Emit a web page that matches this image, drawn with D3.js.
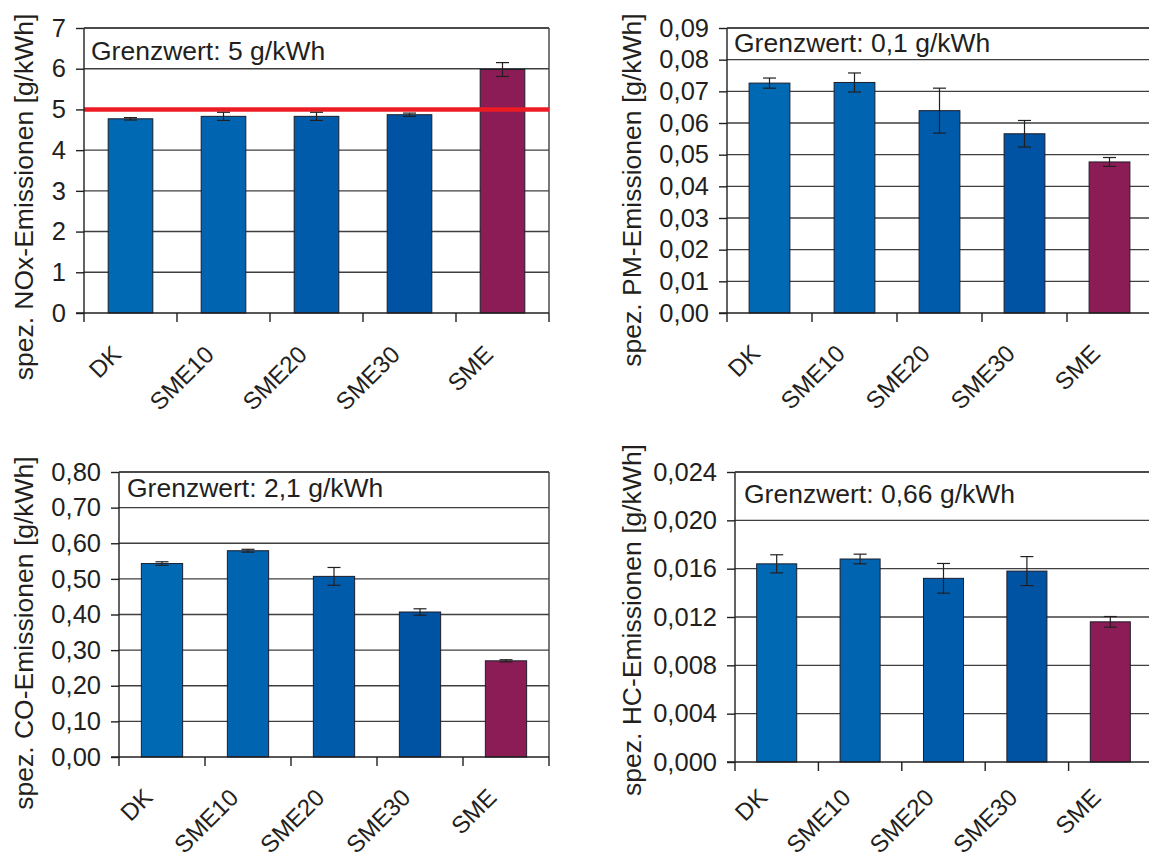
<!DOCTYPE html>
<html>
<head>
<meta charset="utf-8">
<script src="https://cdn.jsdelivr.net/npm/d3@7"></script>
<style>
  html, body { margin: 0; padding: 0; background: #fff; }
  svg { display: block; }
  text { font-family: "Liberation Sans", Arial, Helvetica, sans-serif; fill: #231f20; }
</style>
</head>
<body>
<svg id="chart" width="1149" height="861"></svg>
<script>
// ---------- data ----------
const categories = ["DK", "SME10", "SME20", "SME30", "SME"];

const noxValues = [4.77, 4.83, 4.83, 4.87, 5.98];
const noxErrors = [0.03, 0.10, 0.10, 0.04, 0.17];
const noxLimit = 5;

const pmValues = [0.0726, 0.0728, 0.0639, 0.0566, 0.0477];
const pmErrors = [0.0016, 0.0030, 0.0071, 0.0042, 0.0014];

const coValues = [0.543, 0.579, 0.507, 0.407, 0.270];
const coErrors = [0.005, 0.004, 0.025, 0.009, 0.003];

const hcValues = [0.0164, 0.0168, 0.0152, 0.0158, 0.0116];
const hcErrors = [0.00075, 0.0004, 0.00123, 0.0012, 0.00044];

const noxTicks = [0, 1, 2, 3, 4, 5, 6, 7];
const pmTicks = [0, 0.01, 0.02, 0.03, 0.04, 0.05, 0.06, 0.07, 0.08, 0.09];
const coTicks = [0, 0.1, 0.2, 0.3, 0.4, 0.5, 0.6, 0.7, 0.8];
const hcTicks = [0, 0.004, 0.008, 0.012, 0.016, 0.020, 0.024];

const yTitles = ["spez. NOx-Emissionen [g/kWh]", "spez. PM-Emissionen [g/kWh]",
                 "spez. CO-Emissionen [g/kWh]", "spez. HC-Emissionen [g/kWh]"];
const limitTexts = ["Grenzwert: 5 g/kWh", "Grenzwert: 0,1 g/kWh",
                    "Grenzwert: 2,1 g/kWh", "Grenzwert: 0,66 g/kWh"];

const barColors = ["#0069b4", "#0064b0", "#005bab", "#0052a2", "#8c1c55"];

// ---------- layout ----------
const deFormat = (digits) => (v) => d3.format("." + digits + "f")(v).replace(".", ",");

const panels = [
  { values: noxValues, errors: noxErrors, ticks: noxTicks, fmt: deFormat(0), title: yTitles[0], limitText: limitTexts[0],
    left: 84, right: 549, top: 28, bottom: 313, labelY: 356, titleX: 33, titleY: 197, limitX: 91, limitY: 60, limitLine: noxLimit, frameRight: true },
  { values: pmValues, errors: pmErrors, ticks: pmTicks, fmt: deFormat(2), title: yTitles[1], limitText: limitTexts[1],
    left: 727, right: 1152, top: 28, bottom: 313, labelY: 355, titleX: 641, titleY: 190, limitX: 734, limitY: 52, frameRight: false },
  { values: coValues, errors: coErrors, ticks: coTicks, fmt: deFormat(2), title: yTitles[2], limitText: limitTexts[2],
    left: 119, right: 549, top: 472, bottom: 757, labelY: 799, titleX: 33, titleY: 633, limitX: 127, limitY: 497, frameRight: true },
  { values: hcValues, errors: hcErrors, ticks: hcTicks, fmt: deFormat(3), title: yTitles[3], limitText: limitTexts[3],
    left: 735, right: 1152, top: 472, bottom: 762, labelY: 799, titleX: 641, titleY: 620, limitX: 744, limitY: 503, frameRight: false }
];

const svg = d3.select("#chart");
const gridColor = "#3f3f3f";
const axisColor = "#231f20";

panels.forEach((p) => {
  const g = svg.append("g");
  const ticks = p.ticks;
  const y = d3.scaleLinear().domain([ticks[0], ticks[ticks.length - 1]]).range([p.bottom, p.top]);
  const x = d3.scaleBand().domain(categories).range([p.left, p.right]).paddingInner(0.52).paddingOuter(0.26);

  // gridlines
  g.append("g").selectAll("line").data(ticks.slice(1)).join("line")
    .attr("x1", p.left).attr("x2", Math.min(p.right, 1149))
    .attr("y1", (d) => y(d)).attr("y2", (d) => y(d))
    .attr("stroke", gridColor).attr("stroke-width", 1.4);

  if (p.frameRight) {
    g.append("line").attr("x1", p.right).attr("x2", p.right)
      .attr("y1", p.top).attr("y2", p.bottom)
      .attr("stroke", gridColor).attr("stroke-width", 1.4);
  }

  // bars
  g.append("g").selectAll("rect").data(p.values).join("rect")
    .attr("x", (d, i) => x(categories[i]))
    .attr("width", x.bandwidth())
    .attr("y", (d) => y(d))
    .attr("height", (d) => y(0) - y(d))
    .attr("fill", (d, i) => barColors[i])
    .attr("stroke", "#1d1d2a").attr("stroke-width", 1);

  // limit line
  if (p.limitLine !== undefined) {
    g.append("line").attr("x1", p.left).attr("x2", p.right)
      .attr("y1", y(p.limitLine)).attr("y2", y(p.limitLine))
      .attr("stroke", "#ed1c24").attr("stroke-width", 4.5);
  }

  // error bars
  const eb = g.append("g").attr("stroke", "#231f20").attr("stroke-width", 1.2);
  p.values.forEach((v, i) => {
    const cx = x(categories[i]) + x.bandwidth() / 2;
    const e = p.errors[i];
    eb.append("line").attr("x1", cx).attr("x2", cx).attr("y1", y(v + e)).attr("y2", y(v - e));
    eb.append("line").attr("x1", cx - 6.5).attr("x2", cx + 6.5).attr("y1", y(v + e)).attr("y2", y(v + e));
    eb.append("line").attr("x1", cx - 6.5).attr("x2", cx + 6.5).attr("y1", y(v - e)).attr("y2", y(v - e));
  });

  // y axis
  const yAxis = d3.axisLeft(y).tickValues(ticks).tickFormat(p.fmt).tickSize(8).tickPadding(10);
  const ya = g.append("g").attr("transform", `translate(${p.left},0)`).call(yAxis);
  ya.select(".domain").attr("stroke", axisColor).attr("stroke-width", 1.4).attr("d", `M0,${p.bottom}V${p.top}`);
  ya.selectAll(".tick line").attr("stroke", axisColor).attr("stroke-width", 1.4);
  ya.selectAll(".tick text").attr("font-size", 25.5).attr("fill", "#231f20")
    .style("font-family", '"Liberation Sans", Arial, sans-serif');

  // x axis baseline and boundary ticks
  const step = x.step();
  const outer = (step - x.bandwidth()) / 2;
  const boundaries = categories.map((c) => x(c) - outer).concat([x(categories[categories.length - 1]) + x.bandwidth() + outer]);
  g.append("line").attr("x1", p.left - 8).attr("x2", Math.min(p.right, 1149))
    .attr("y1", p.bottom).attr("y2", p.bottom).attr("stroke", axisColor).attr("stroke-width", 1.4);
  g.append("g").selectAll("line").data(boundaries).join("line")
    .attr("x1", (d) => d).attr("x2", (d) => d)
    .attr("y1", p.bottom).attr("y2", p.bottom + 9)
    .attr("stroke", axisColor).attr("stroke-width", 1.4);

  // category labels
  g.append("g").selectAll("text").data(categories).join("text")
    .attr("transform", (c) => `translate(${x(c) + x.bandwidth() / 2 - 8},${p.labelY}) rotate(-45)`)
    .attr("text-anchor", "end")
    .attr("font-size", 24)
    .text((c) => c);

  // y title
  g.append("text")
    .attr("transform", `translate(${p.titleX},${p.titleY}) rotate(-90)`)
    .attr("text-anchor", "middle")
    .attr("font-size", 26.5)
    .text(p.title);

  // limit text
  g.append("text").attr("x", p.limitX).attr("y", p.limitY)
    .attr("font-size", 26.5)
    .text(p.limitText);

  // top frame
  g.append("line").attr("x1", p.left).attr("x2", Math.min(p.right, 1149))
    .attr("y1", p.top).attr("y2", p.top).attr("stroke", gridColor).attr("stroke-width", 1.4);
});
</script>
</body>
</html>
